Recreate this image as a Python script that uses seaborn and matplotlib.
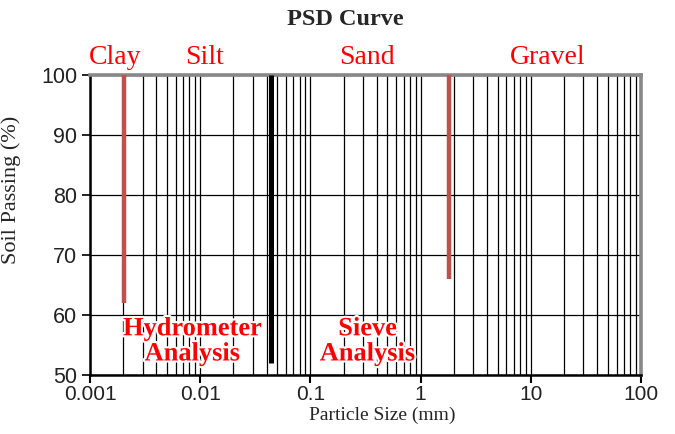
import matplotlib
matplotlib.use("Agg")
import matplotlib.pyplot as plt
import matplotlib.patheffects as pe
from matplotlib.ticker import LogLocator, NullFormatter
import seaborn as sns
import pandas as pd

# Data
zone_names = ["Clay", "Silt", "Sand", "Gravel"]
zone_label_x = [0.0017, 0.0109, 0.325, 14.3]
boundary_names = ["Clay/Silt", "Hydrometer/Sieve", "Sand/Gravel"]
boundary_x = [0.00205, 0.044, 1.8]
boundary_bottom = [62, 52, 66]
boundary_top = [100, 100, 100]
method_names = ["Hydrometer\nAnalysis", "Sieve\nAnalysis"]
method_x = [0.0085, 0.33]
method_y = [55.6, 55.6]
x_ticks = [0.001, 0.01, 0.1, 1, 10, 100]
x_tick_labels = ["0.001", "0.01", "0.1", "1", "10", "100"]
y_ticks = [50, 60, 70, 80, 90, 100]

sns.set_style("white")
plt.rcParams['font.family'] = ['Liberation Sans', 'DejaVu Sans']

fig = plt.figure(figsize=(6.75, 4.34), dpi=100)
ax = fig.add_axes([0.1333, 0.136, 0.8163, 0.691])

ax.set_xscale("log")
ax.set_xlim(0.001, 100)
ax.set_ylim(50, 100)

ax.set_xticks(x_ticks)
ax.set_xticklabels(x_tick_labels, fontsize=15, color="#222222")
ax.xaxis.set_minor_locator(LogLocator(base=10, subs=range(2, 10), numticks=20))
ax.xaxis.set_minor_formatter(NullFormatter())
ax.set_yticks(y_ticks)
ax.set_yticklabels([str(v) for v in y_ticks], fontsize=15.5, color="#222222")

ax.grid(which="both", axis="x", color="black", lw=0.9)
ax.grid(which="major", axis="y", color="black", lw=0.9)
ax.set_axisbelow(True)

ax.tick_params(axis="x", which="major", direction="out", length=6, width=1.5, color="black", bottom=True, pad=1.5)
ax.tick_params(axis="x", which="minor", length=0)
ax.tick_params(axis="y", which="major", direction="out", length=6, width=1.2, color="black", left=True, pad=3)

for s in ["left", "bottom"]:
    ax.spines[s].set_color("black")
    ax.spines[s].set_linewidth(1.8)
for s in ["top", "right"]:
    ax.spines[s].set_color("#888888")
    ax.spines[s].set_linewidth(2.6)

colors = ["#c0504d", "black", "#c0504d"]
widths = [3.2, 3.6, 3.2]
for name, x, yb, yt, c, w in zip(boundary_names, boundary_x, boundary_bottom, boundary_top, colors, widths):
    df = pd.DataFrame({"x": [x, x], "y": [yb, yt]})
    sns.lineplot(data=df, x="x", y="y", ax=ax, color=c, lw=w, sort=False,
                 estimator=None, legend=False, solid_capstyle="butt", zorder=3)

for name, x in zip(zone_names, zone_label_x):
    ax.text(x, 101.8, name, ha="center", va="baseline", fontsize=20, color="#ff0000",
            family=["Liberation Serif"], clip_on=False)

for name, x, y in zip(method_names, method_x, method_y):
    ax.text(x, y, name, ha="center", va="center", fontsize=19, color="#ff0000",
            fontweight="bold", family=["Liberation Serif"], linespacing=1.12, zorder=5,
            path_effects=[pe.withStroke(linewidth=3, foreground="white")])

ax.set_xlabel("Particle Size (mm)", fontsize=14, family=["Liberation Serif"], va="top")
ax.xaxis.set_label_coords(0.53, -0.107)
ax.set_ylabel("Soil Passing (%)", fontsize=16, family=["Liberation Serif"])
ax.yaxis.set_label_coords(-0.125, 0.617)
fig.text(0.511, 0.956, "PSD Curve", ha="center", va="center", fontsize=17.5,
         fontweight="bold", family=["Liberation Serif"])

fig.savefig("out.png", dpi=100)
